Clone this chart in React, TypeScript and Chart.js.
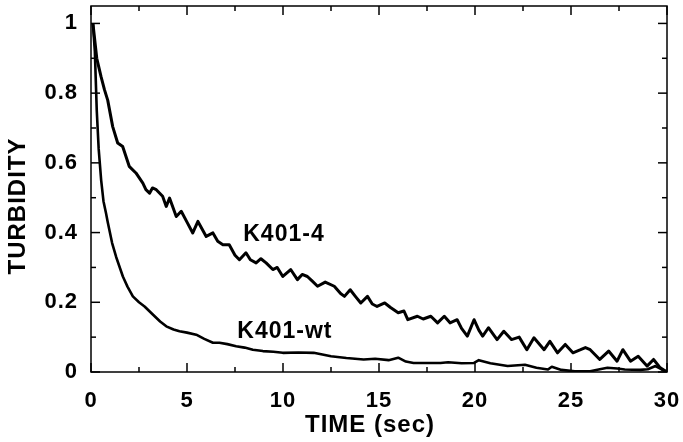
import React, { useEffect, useRef } from "react";
import { Chart, registerables } from "chart.js";

Chart.register(...registerables);

// ---- data ----
const TIME_4 = [
  0.1, 0.3, 0.52, 0.7, 0.87, 1.13, 1.39, 1.65, 1.99, 2.34, 2.7, 2.86, 3.05, 3.2, 3.4, 3.73, 3.92, 4.09,
  4.44, 4.7, 5.0, 5.3, 5.57, 6.0, 6.35, 6.6, 6.87, 7.2, 7.5, 7.73, 8.07, 8.3, 8.6, 8.85, 9.12, 9.47,
  9.7, 9.99, 10.4, 10.75, 11.0, 11.27, 11.5, 11.8, 12.2, 12.67, 13.0, 13.2, 13.5, 13.8, 14.05, 14.4,
  14.65, 14.9, 15.3, 15.6, 16.0, 16.3, 16.5, 17.0, 17.3, 17.7, 18.05, 18.4, 18.7, 19.07, 19.3, 19.6,
  19.95, 20.2, 20.4, 20.7, 21.15, 21.5, 21.9, 22.3, 22.7, 23.07, 23.6, 23.9, 24.3, 24.7, 25.1, 25.5,
  25.75, 26.0, 26.5, 26.96, 27.4, 27.7, 28.1, 28.5, 28.96, 29.3, 29.65, 30.0,
];
const TURB_4 = [
  1.0, 0.9, 0.848, 0.81, 0.78, 0.704, 0.657, 0.647, 0.59, 0.571, 0.542, 0.523, 0.513, 0.528, 0.523, 0.504, 0.475, 0.499,
  0.446, 0.461, 0.43, 0.399, 0.432, 0.389, 0.399, 0.375, 0.365, 0.365, 0.335, 0.322, 0.342, 0.322, 0.313, 0.325, 0.313, 0.294,
  0.3, 0.274, 0.294, 0.265, 0.28, 0.274, 0.262, 0.246, 0.258, 0.246, 0.225, 0.217, 0.236, 0.215, 0.198, 0.217,
  0.195, 0.188, 0.198, 0.185, 0.17, 0.175, 0.15, 0.16, 0.152, 0.16, 0.141, 0.16, 0.141, 0.15, 0.125, 0.103,
  0.15, 0.12, 0.103, 0.127, 0.093, 0.117, 0.093, 0.1, 0.064, 0.098, 0.064, 0.088, 0.055, 0.079, 0.055, 0.064,
  0.07, 0.064, 0.036, 0.06, 0.031, 0.064, 0.031, 0.045, 0.017, 0.036, 0.012, 0.0,
];

const TIME_WT = [
  0.1, 0.2, 0.3, 0.4, 0.53, 0.65, 0.78, 0.87, 1.1, 1.31, 1.66, 1.9, 2.18, 2.5, 2.79, 3.22, 3.6, 3.92,
  4.3, 4.61, 5.0, 5.48, 5.9, 6.35, 6.69, 7.1, 7.56, 8.0, 8.43, 8.95, 9.5, 9.99, 10.8, 11.6, 12.5, 13.3,
  14.2, 14.8, 15.5, 16.0, 16.4, 16.8, 17.7, 18.2, 18.6, 19.3, 19.95, 20.2, 20.8, 21.7, 22.6, 23.2, 23.8,
  24.0, 24.5, 25.2, 26.0, 26.5, 26.9, 27.4, 27.8, 28.6, 29.0, 29.4, 29.7, 30.0,
];
const TURB_WT = [
  1.0, 0.92, 0.75, 0.64, 0.55, 0.49, 0.456, 0.43, 0.37, 0.33, 0.274, 0.245, 0.217, 0.2, 0.188, 0.165, 0.145, 0.131,
  0.122, 0.117, 0.113, 0.107, 0.095, 0.084, 0.084, 0.08, 0.074, 0.07, 0.064, 0.06, 0.058, 0.055, 0.056, 0.055, 0.045, 0.04,
  0.036, 0.038, 0.034, 0.041, 0.03, 0.026, 0.026, 0.026, 0.028, 0.025, 0.026, 0.034, 0.025, 0.017, 0.021, 0.012, 0.007,
  0.015, 0.006, 0.002, 0.002, 0.008, 0.012, 0.01, 0.007, 0.006, 0.008, 0.017, 0.008, 0.0,
];

const X_TICKS = [0, 5, 10, 15, 20, 25, 30];
const X_MINOR = [2.5, 7.5, 12.5, 17.5, 22.5, 27.5];
const Y_TICKS = [0, 0.2, 0.4, 0.6, 0.8, 1];
const Y_MINOR = [0.1, 0.3, 0.5, 0.7, 0.9];

const SERIES_NAMES = ["K401-4", "K401-wt"];
const NAME_X = [7.93, 7.62];
const NAME_Y = [0.375, 0.098];

const X_TITLE = "TIME (sec)";
const Y_TITLE = "TURBIDITY";

const FONT_FAMILY = "'Liberation Sans', Arial, Helvetica, sans-serif";
const SPACING = "1px";

const boxPlugin = {
  id: "boxPlugin",
  beforeUpdate(chart: any) {
    chart.ctx.letterSpacing = SPACING;
  },
  beforeDraw(chart: any) {
    chart.ctx.letterSpacing = SPACING;
  },
  afterDatasetsDraw(chart: any) {
    const { ctx, chartArea: a, scales } = chart;
    const xs = scales.x;
    const ys = scales.y;
    ctx.save();
    ctx.strokeStyle = "#000";
    ctx.lineWidth = 1.5;
    ctx.strokeRect(a.left, a.top, a.right - a.left, a.bottom - a.top);
    const seg = (x1: number, y1: number, x2: number, y2: number) => {
      ctx.beginPath();
      ctx.moveTo(x1, y1);
      ctx.lineTo(x2, y2);
      ctx.stroke();
    };
    const xt = (vals: number[], len: number) =>
      vals.forEach((v) => {
        const px = xs.getPixelForValue(v);
        seg(px, a.bottom, px, a.bottom - len);
        seg(px, a.top, px, a.top + len);
      });
    const yt = (vals: number[], len: number) =>
      vals.forEach((v) => {
        const py = ys.getPixelForValue(v);
        seg(a.left, py, a.left + len, py);
        seg(a.right, py, a.right - len, py);
      });
    xt(X_TICKS, 9);
    xt(X_MINOR, 5);
    yt(Y_TICKS, 9);
    yt(Y_MINOR, 5);

    ctx.fillStyle = "#000";
    ctx.letterSpacing = SPACING;
    ctx.font = `bold 23px ${FONT_FAMILY}`;
    ctx.textAlign = "left";
    ctx.textBaseline = "alphabetic";
    SERIES_NAMES.forEach((s, i) => {
      ctx.fillText(s, xs.getPixelForValue(NAME_X[i]), ys.getPixelForValue(NAME_Y[i]));
    });

    ctx.font = `bold 24px ${FONT_FAMILY}`;
    ctx.textAlign = "center";
    ctx.fillText(X_TITLE, (a.left + a.right) / 2 - 9, 431.5);
    ctx.translate(25, (a.top + a.bottom) / 2 + 17);
    ctx.rotate(-Math.PI / 2);
    ctx.fillText(Y_TITLE, 0, 0);
    ctx.restore();
  },
};

export default function App() {
  const ref = useRef<HTMLCanvasElement | null>(null);

  useEffect(() => {
    document.body.style.margin = "0";
    const canvas = ref.current;
    if (!canvas) return;
    const tickFont = { family: FONT_FAMILY, size: 22, weight: "bold" as const };
    const chart = new Chart(canvas, {
      type: "line",
      data: {
        datasets: [
          {
            label: SERIES_NAMES[0],
            data: TIME_4.map((t, i) => ({ x: t, y: TURB_4[i] })),
            borderColor: "#000",
            borderWidth: 3,
            borderJoinStyle: "round",
            pointRadius: 0,
            tension: 0,
            fill: false,
          },
          {
            label: SERIES_NAMES[1],
            data: TIME_WT.map((t, i) => ({ x: t, y: TURB_WT[i] })),
            borderColor: "#000",
            borderWidth: 2.6,
            borderJoinStyle: "round",
            pointRadius: 0,
            tension: 0,
            fill: false,
          },
        ],
      },
      options: {
        responsive: false,
        animation: false,
        layout: { padding: { top: 6, right: 16, left: 0, bottom: 0 } },
        plugins: { legend: { display: false }, tooltip: { enabled: false } },
        scales: {
          x: {
            type: "linear",
            min: 0,
            max: 30,
            grid: { display: false, drawTicks: false },
            border: { display: false },
            ticks: {
              font: tickFont,
              color: "#000",
              padding: 16,
              maxRotation: 0,
              autoSkip: false,
              callback: (v: any) => String(v),
            },
            afterBuildTicks: (s: any) => {
              s.ticks = X_TICKS.map((v) => ({ value: v }));
            },
            afterFit: (s: any) => {
              s.height = 70;
              s.paddingLeft = 0;
              s.paddingRight = 0;
            },
          },
          y: {
            type: "linear",
            min: 0,
            max: 1.05,
            grid: { display: false, drawTicks: false },
            border: { display: false },
            ticks: {
              font: tickFont,
              color: "#000",
              padding: 13,
              autoSkip: false,
              callback: (v: any) => String(v),
            },
            afterBuildTicks: (s: any) => {
              s.ticks = Y_TICKS.map((v) => ({ value: v }));
            },
            afterFit: (s: any) => {
              s.width = 91;
              s.paddingTop = 0;
              s.paddingBottom = 0;
            },
          },
        },
      },
      plugins: [boxPlugin],
    });
    return () => chart.destroy();
  }, []);

  return (
    <div style={{ width: 683, height: 442, background: "#fff" }}>
      <canvas ref={ref} width={683} height={442} style={{ display: "block" }} />
    </div>
  );
}
